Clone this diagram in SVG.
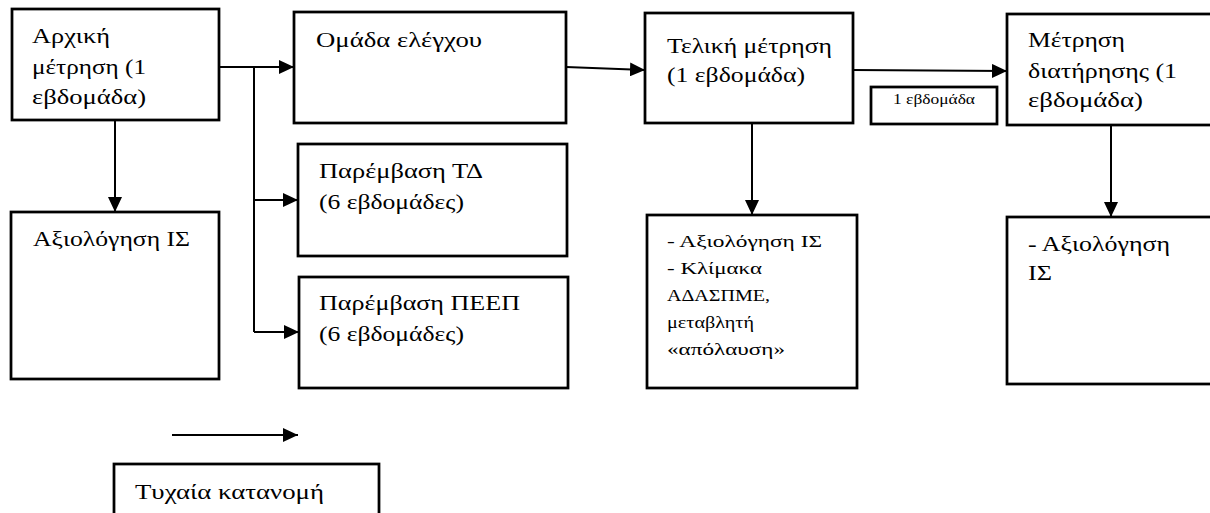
<svg xmlns="http://www.w3.org/2000/svg" width="1210" height="513" viewBox="0 0 1210 513">
<style>
.box{fill:#fff;stroke:#000;stroke-width:2.75}
.ln{fill:none;stroke:#000;stroke-width:2}
text{font-family:"Liberation Serif","DejaVu Serif",serif;fill:#000}
.t{font-size:21px}
.s{font-size:17px}
.xs{font-size:14px}
</style>
<defs>
<marker id="ah" markerUnits="userSpaceOnUse" markerWidth="15" markerHeight="14" refX="15" refY="7" orient="auto">
<path d="M0,0 L15,7 L0,14 z" fill="#000"/>
</marker>
</defs>
<rect width="1210" height="513" fill="#fff"/>
<g id="connectors">
<line class="ln" x1="219" y1="67" x2="294" y2="67" marker-end="url(#ah)"/>
<polyline class="ln" points="254,67 254,332"/>
<line class="ln" x1="254" y1="200" x2="298" y2="200" marker-end="url(#ah)"/>
<line class="ln" x1="254" y1="332" x2="299" y2="332" marker-end="url(#ah)"/>
<line class="ln" x1="115" y1="120" x2="115" y2="212" marker-end="url(#ah)"/>
<line class="ln" x1="566" y1="67" x2="645" y2="70" marker-end="url(#ah)"/>
<line class="ln" x1="853" y1="70" x2="1007" y2="71" marker-end="url(#ah)"/>
<line class="ln" x1="752" y1="123" x2="752" y2="215" marker-end="url(#ah)"/>
<line class="ln" x1="1111" y1="125" x2="1111" y2="217" marker-end="url(#ah)"/>
<line class="ln" x1="172" y1="435" x2="298" y2="435" marker-end="url(#ah)"/>
</g>
<g id="n-arxiki">
<rect class="box" x="12" y="9" width="207" height="111"/>
<text class="t" x="32" y="43" textLength="78" lengthAdjust="spacingAndGlyphs">Αρχική</text>
<text class="t" x="32" y="74" textLength="114" lengthAdjust="spacingAndGlyphs">μέτρηση (1</text>
<text class="t" x="32" y="104" textLength="114" lengthAdjust="spacingAndGlyphs">εβδομάδα)</text>
</g>
<g id="n-omada">
<rect class="box" x="294" y="12" width="272" height="111"/>
<text class="t" x="316" y="47" textLength="166" lengthAdjust="spacingAndGlyphs">Ομάδα ελέγχου</text>
</g>
<g id="n-teliki">
<rect class="box" x="645" y="13" width="208" height="110"/>
<text class="t" x="667" y="53" textLength="165" lengthAdjust="spacingAndGlyphs">Τελική μέτρηση</text>
<text class="t" x="667" y="82" textLength="138" lengthAdjust="spacingAndGlyphs">(1 εβδομάδα)</text>
</g>
<g id="n-week">
<rect class="box" x="871" y="87" width="126" height="37"/>
<text class="xs" x="893" y="104" textLength="82" lengthAdjust="spacingAndGlyphs">1 εβδομάδα</text>
</g>
<g id="n-diatirisi">
<rect class="box" x="1007" y="14" width="220" height="111"/>
<text class="t" x="1028" y="47" textLength="97" lengthAdjust="spacingAndGlyphs">Μέτρηση</text>
<text class="t" x="1028" y="78" textLength="149" lengthAdjust="spacingAndGlyphs">διατήρησης (1</text>
<text class="t" x="1028" y="107" textLength="115" lengthAdjust="spacingAndGlyphs">εβδομάδα)</text>
</g>
<g id="n-axiologisi1">
<rect class="box" x="11" y="212" width="208" height="167"/>
<text class="t" x="33" y="246" textLength="157" lengthAdjust="spacingAndGlyphs">Αξιολόγηση ΙΣ</text>
</g>
<g id="n-td">
<rect class="box" x="298" y="144" width="269" height="112"/>
<text class="t" x="319" y="178" textLength="164" lengthAdjust="spacingAndGlyphs">Παρέμβαση ΤΔ</text>
<text class="t" x="319" y="209" textLength="145" lengthAdjust="spacingAndGlyphs">(6 εβδομάδες)</text>
</g>
<g id="n-peep">
<rect class="box" x="299" y="277" width="269" height="111"/>
<text class="t" x="319" y="310" textLength="201" lengthAdjust="spacingAndGlyphs">Παρέμβαση ΠΕΕΠ</text>
<text class="t" x="319" y="341" textLength="145" lengthAdjust="spacingAndGlyphs">(6 εβδομάδες)</text>
</g>
<g id="n-axiologisi2">
<rect class="box" x="647" y="215" width="210" height="173"/>
<text class="s" x="667" y="247" textLength="155" lengthAdjust="spacingAndGlyphs">- Αξιολόγηση ΙΣ</text>
<text class="s" x="667" y="274" textLength="95" lengthAdjust="spacingAndGlyphs">- Κλίμακα</text>
<text class="s" x="667" y="301" textLength="103" lengthAdjust="spacingAndGlyphs">ΑΔΑΣΠΜΕ,</text>
<text class="s" x="667" y="328" textLength="87" lengthAdjust="spacingAndGlyphs">μεταβλητή</text>
<text class="s" x="667" y="355" textLength="118" lengthAdjust="spacingAndGlyphs">«απόλαυση»</text>
</g>
<g id="n-axiologisi3">
<rect class="box" x="1007" y="217" width="220" height="167"/>
<text class="t" x="1028" y="251" textLength="142" lengthAdjust="spacingAndGlyphs">- Αξιολόγηση</text>
<text class="t" x="1028" y="280" textLength="24" lengthAdjust="spacingAndGlyphs">ΙΣ</text>
</g>
<g id="n-legend">
<rect class="box" x="114" y="464" width="265" height="70"/>
<text class="t" x="135" y="499" textLength="189" lengthAdjust="spacingAndGlyphs">Τυχαία κατανομή</text>
</g>
</svg>
